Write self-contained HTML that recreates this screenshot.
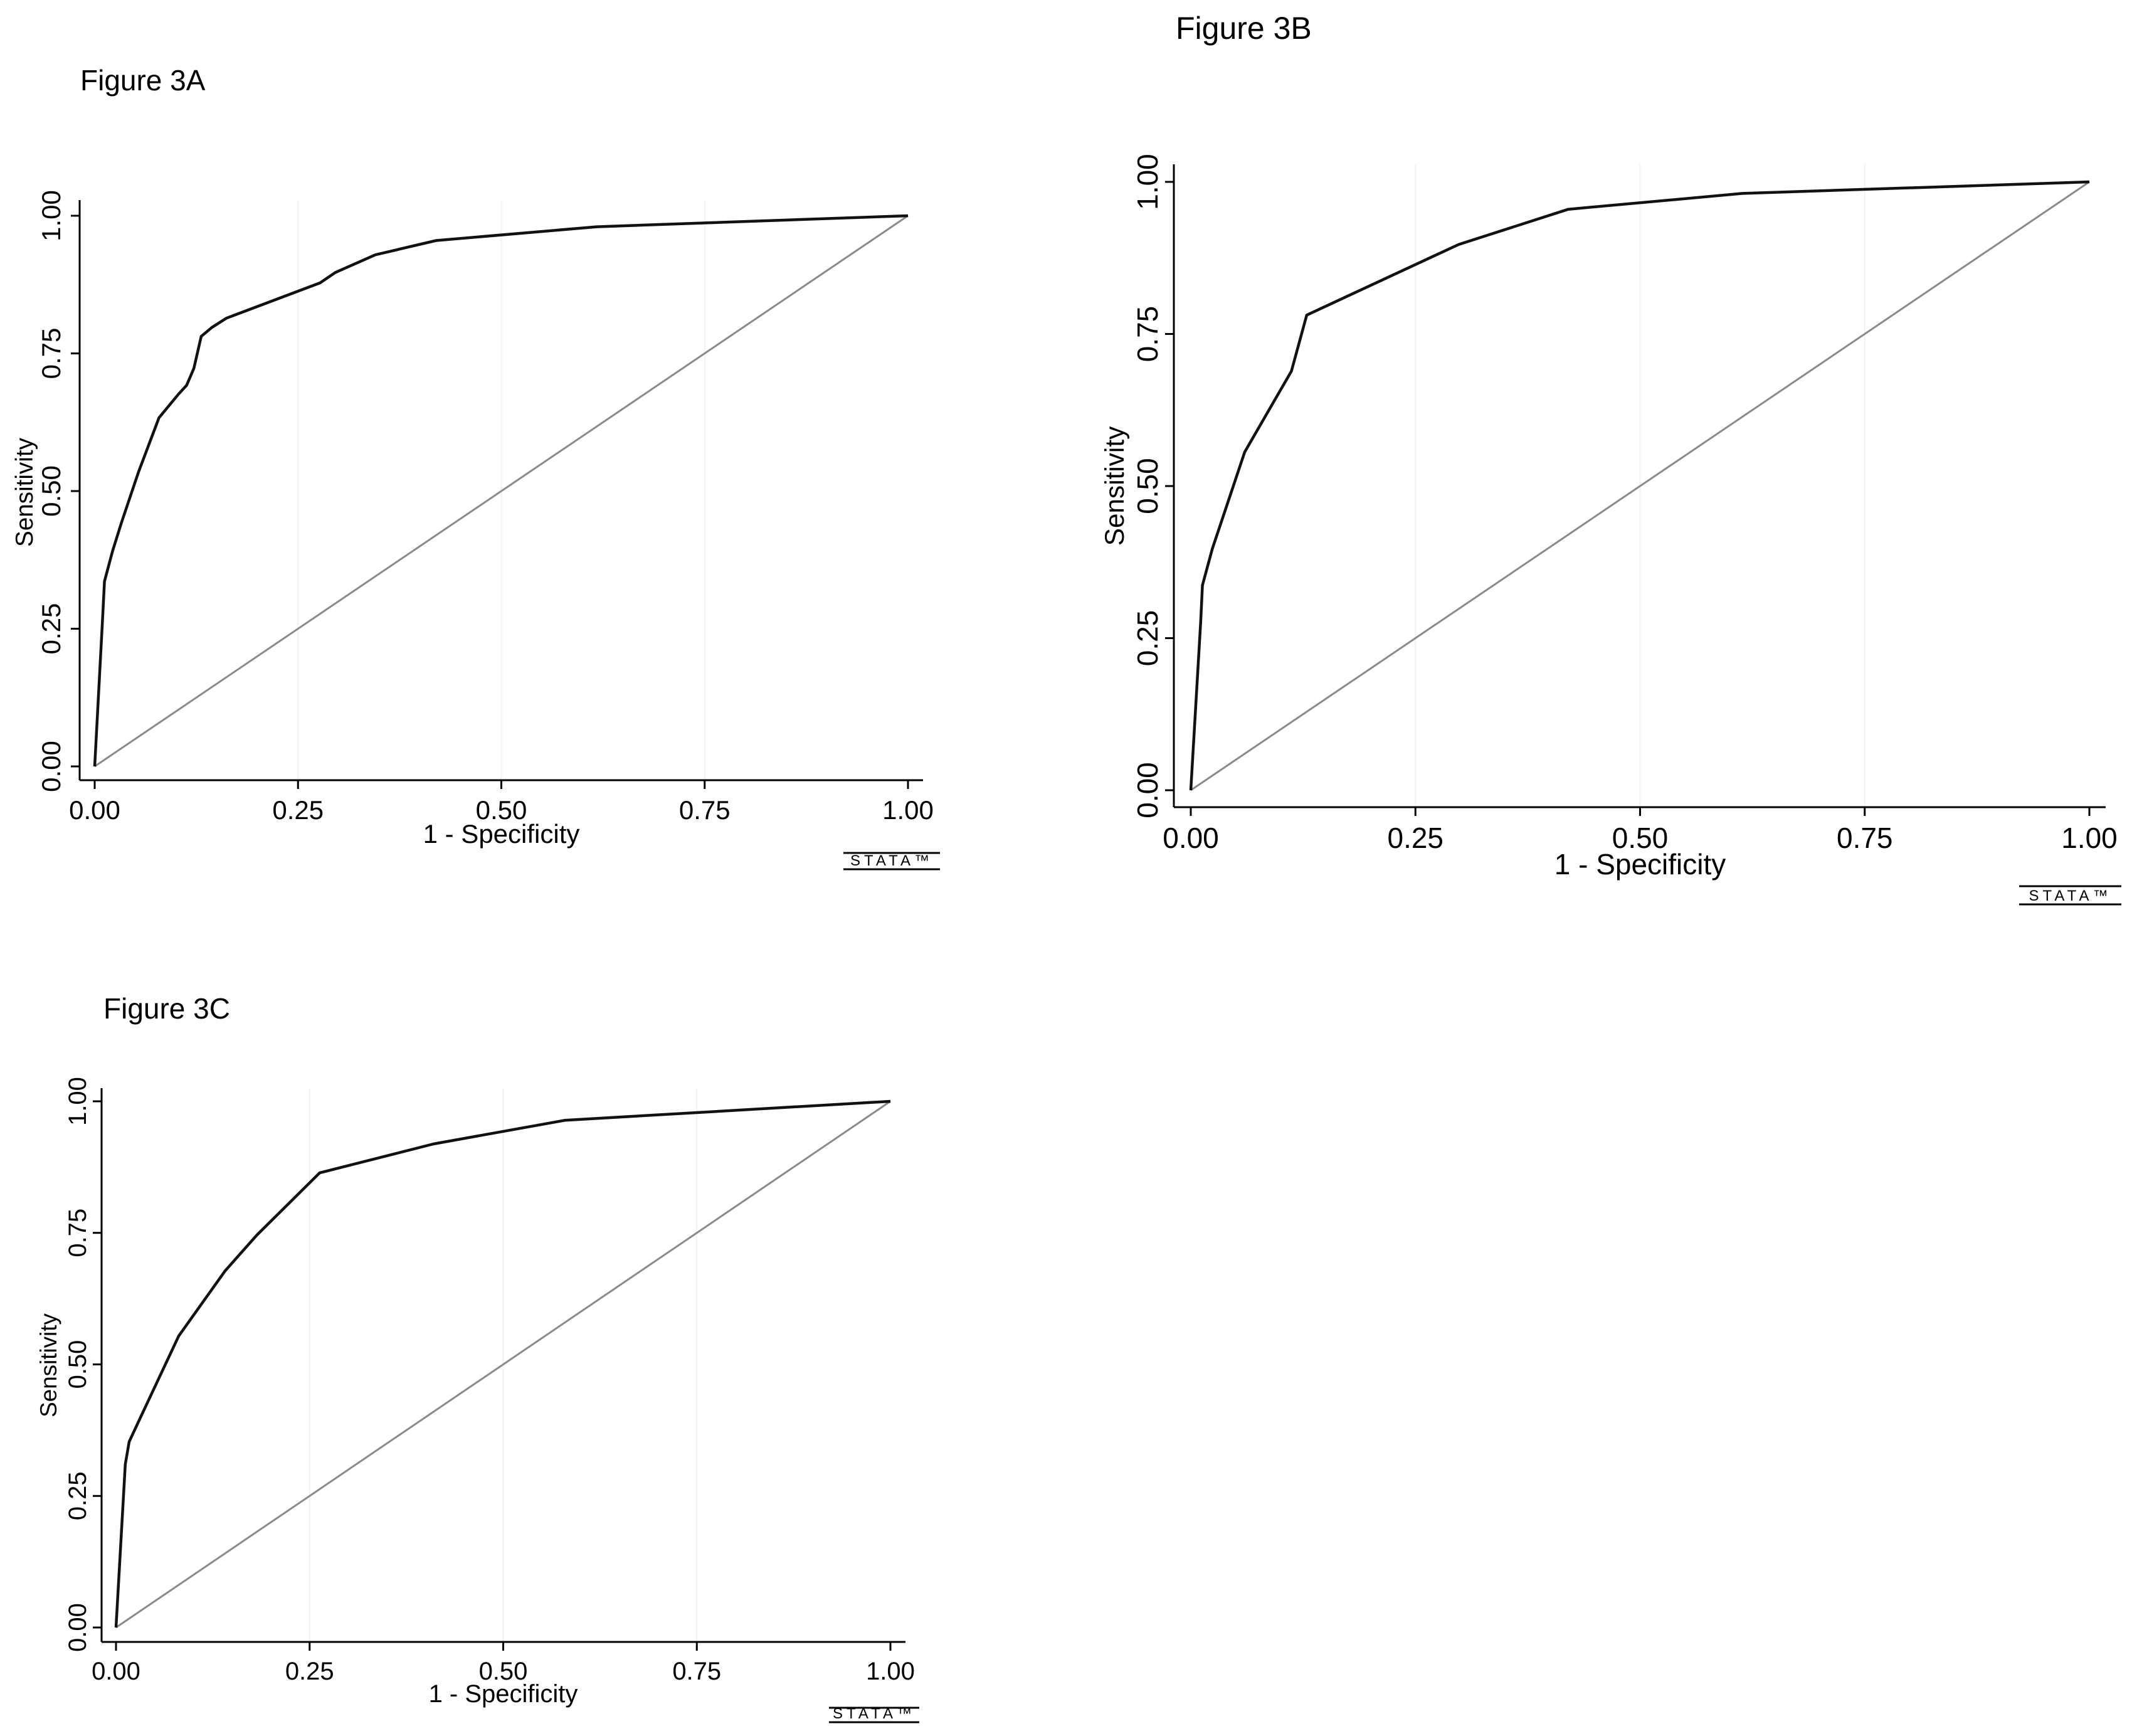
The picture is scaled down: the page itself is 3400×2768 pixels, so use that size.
<!DOCTYPE html>
<html><head><meta charset="utf-8"><style>
html,body{margin:0;padding:0;background:#fff}
svg{display:block;font-family:"Liberation Sans",Arial,sans-serif}
</style></head><body>
<svg id="c" width="3400" height="2768" viewBox="0 0 3400 2768">
<text x="128" y="144" font-size="46">Figure 3A</text>
<text x="1875" y="62" font-size="50">Figure 3B</text>
<text x="165" y="1624" font-size="46">Figure 3C</text>
</svg>
<script>
const ticks = [0, 0.25, 0.5, 0.75, 1];
const tickLabels = ["0.00", "0.25", "0.50", "0.75", "1.00"];
const aX = [0, .010, .012, .022, .033, .054, .079, .103, .113, .122, .131, .144, .162, .277, .296, .345, .420, .617, 1];
const aY = [0, .277, .336, .391, .443, .535, .633, .676, .692, .723, .781, .797, .814, .878, .897, .929, .955, .980, 1];
const bX = [0, .011, .013, .024, .060, .112, .129, .298, .420, .614, 1];
const bY = [0, .277, .337, .397, .556, .689, .781, .897, .955, .981, 1];
const cX = [0, .012, .017, .029, .081, .141, .182, .263, .410, .580, 1];
const cY = [0, .310, .353, .391, .554, .678, .746, .864, .919, .964, 1];

const svg = document.getElementById('c');
const NS = 'http://www.w3.org/2000/svg';
function mk(tag, attrs, parent){const e=document.createElementNS(NS,tag);for(const k in attrs)e.setAttribute(k,attrs[k]);(parent||svg).appendChild(e);return e;}

function panel(id, P, xs, ys){
  const g = mk('g', {});
  
  
  const sx = v => P.x0 + v*(P.x1-P.x0);
  const sy = v => P.y0 - v*(P.y0-P.y1);
  ticks.forEach((t,i)=>{ if(i>0 && i<4){
    const gl = mk('line',{x1:sx(t),x2:sx(t),y1:P.top,y2:P.bot,stroke:'#f2f2f2','stroke-width':2},g);
    
    
  }});
  const ya = mk('line',{x1:P.left,x2:P.left,y1:P.top,y2:P.bot,stroke:'#000','stroke-width':3},g);
  
  
  const xa = mk('line',{x1:P.left,x2:P.right,y1:P.bot,y2:P.bot,stroke:'#000','stroke-width':3},g);
  
  
  ticks.forEach((t,i)=>{
    const tx = mk('line',{x1:sx(t),x2:sx(t),y1:P.bot,y2:P.bot+14,stroke:'#000','stroke-width':3},g);
    
    
    const lx = mk('text',{x:sx(t),y:P.xly,'font-size':P.fs,'text-anchor':'middle'},g);
    lx.textContent = tickLabels[i];
    
    
    const ty = mk('line',{x1:P.left-14,x2:P.left,y1:sy(t),y2:sy(t),stroke:'#000','stroke-width':3},g);
    
    
    const ly = mk('text',{x:0,y:0,'font-size':P.fs,'text-anchor':'middle',transform:`translate(${P.yl},${sy(t)}) rotate(-90)`},g);
    ly.textContent = tickLabels[i];
    
    
  });
  const xt = mk('text',{x:(sx(0)+sx(1))/2,y:P.xty,'font-size':P.fs,'text-anchor':'middle'},g);
  xt.textContent = '1 - Specificity';
  
  
  const yt = mk('text',{x:0,y:0,'font-size':P.fs*0.92,'text-anchor':'middle',transform:`translate(${P.ytx},${P.yty}) rotate(-90)`},g);
  yt.textContent = 'Sensitivity';
  
  
  const d = mk('line',{x1:sx(0),y1:sy(0),x2:sx(1),y2:sy(1),stroke:'#8a8a8a','stroke-width':3},g);
  
  
  const pts = xs.map((x,i)=>sx(x).toFixed(1)+','+sy(ys[i]).toFixed(1)).join(' ');
  const r = mk('polyline',{points:pts,fill:'none',stroke:'#111','stroke-width':4.5,'stroke-linejoin':'round'},g);
  
  
  const lg = mk('g',{},g);
  
  
  mk('line',{x1:P.sl,x2:P.sr,y1:P.st,y2:P.st,stroke:'#000','stroke-width':3},lg);
  mk('line',{x1:P.sl,x2:P.sr,y1:P.sb,y2:P.sb,stroke:'#000','stroke-width':3},lg);
  const st = mk('text',{x:(P.sl+P.sr)/2,y:P.sb-6,'font-size':24,'text-anchor':'middle','letter-spacing':6},lg);
  st.textContent = 'STATA™';
}
panel('figure-3a', {x0:151,x1:1448,y0:1222,y1:344,left:127,right:1472,top:319,bot:1244,fs:42,xly:1306,xty:1344,yl:96,ytx:52,yty:785,sl:1345,sr:1499,st:1360,sb:1386}, aX, aY);
panel('figure-3b', {x0:1899,x1:3332,y0:1260,y1:290,left:1872,right:3358,top:262,bot:1287,fs:46,xly:1352,xty:1394,yl:1846,ytx:1792,yty:775,sl:3220,sr:3383,st:1413,sb:1442}, bX, bY);
panel('figure-3c', {x0:185,x1:1420,y0:2595,y1:1756,left:162,right:1444,top:1735,bot:2618,fs:40,xly:2678,xty:2714,yl:137,ytx:90,yty:2177,sl:1322,sr:1466,st:2723,sb:2746}, cX, cY);
</script>
</body></html>
